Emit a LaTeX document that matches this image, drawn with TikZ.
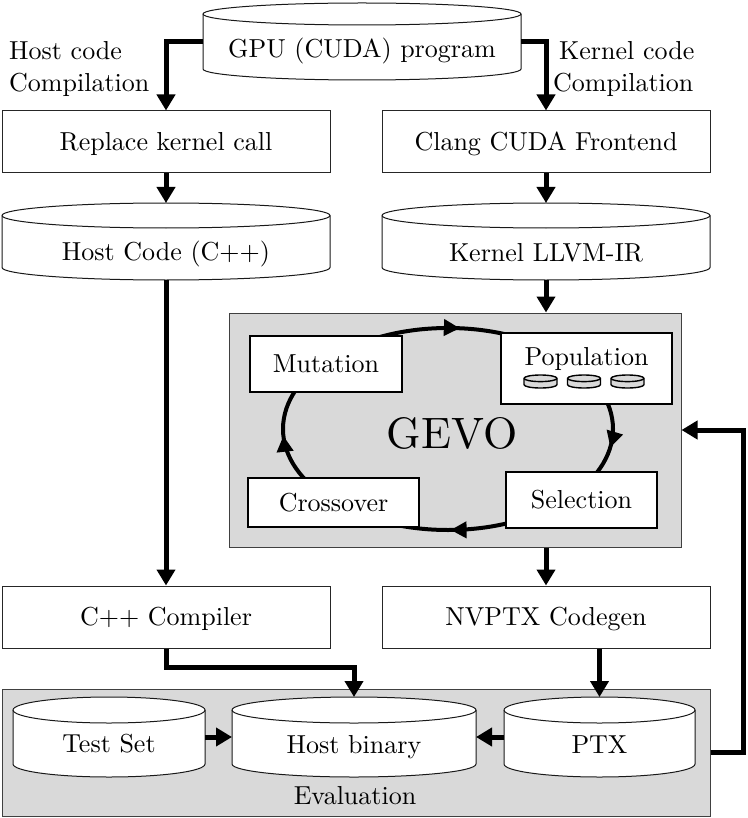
\documentclass[tikz,border=0pt]{standalone}
\usepackage{graphicx}
\usetikzlibrary{arrows.meta,decorations.markings,calc}
\newcommand\sx[1]{\scalebox{2.6}{#1}}
\newcommand\dbcyl[8]{% name,l,t,r,b,ry,texty,text
 \filldraw[cylline] (#2,-#3-#6) -- (#2,-#5+#6) arc[start angle=180,end angle=360,x radius={(#4-#2)/2},y radius=#6] -- (#4,-#3-#6) arc[start angle=0,end angle=180,x radius={(#4-#2)/2},y radius=#6] -- cycle;
 \draw[cylline,fill=none] (#2,-#3-#6) arc[start angle=180,end angle=360,x radius={(#4-#2)/2},y radius=#6];
 \node[hold, minimum width={(#4-#2)*1pt}, minimum height={(#5-#3)*1pt}] (#1) at ({(#2+#4)/2},{-(#3+#5)/2}) {};
 \node[txt] (#1-t) at ({(#2+#4)/2},-#7) {\sx{#8}};
}
\newcommand\minicyl[1]{%
 \filldraw[draw=black, line width=1.4pt, fill=gray!30] (#1-16.5,-378.3) -- (#1-16.5,-384.7) arc[start angle=180,end angle=360,x radius=16.5,y radius=3.3] -- (#1+16.5,-378.3) arc[start angle=0,end angle=180,x radius=16.5,y radius=3.3] -- cycle;
 \draw[line width=1.4pt] (#1-16.5,-378.3) arc[start angle=180,end angle=360,x radius=16.5,y radius=3.3];
}
\begin{document}
\begin{tikzpicture}[x=1pt,y=1pt,
  box/.style={draw=black!85, line width=1pt, fill=white, inner sep=0pt, text height=17pt, text depth=0pt},
  ibox/.style={draw=black, line width=1.6pt, fill=white, inner sep=0pt, text height=17pt, text depth=0pt},
  txt/.style={inner sep=0pt, text height=17pt, text depth=0pt},
  lbl/.style={anchor=base west, inner sep=0pt},
  arr/.style={line width=5pt, -{Triangle[length=16pt,width=18pt]}},
  cylline/.style={draw=black!90, line width=1pt, fill=white},
  hold/.style={inner sep=0pt, outer sep=0pt, draw=none},
  grp/.style={draw=black!75, line width=1pt, fill=gray!30, inner sep=0pt},
  cyc/.style={line width=4pt, postaction={decorate}, decoration={markings,
     mark=at position 0.022 with {\arrow{Triangle[length=16pt,width=16pt]}},
     mark=at position 0.247 with {\arrow{Triangle[length=16pt,width=16pt]}},
     mark=at position 0.492 with {\arrow{Triangle[length=16pt,width=16pt]}},
     mark=at position 0.764 with {\arrow{Triangle[length=16pt,width=16pt]}}}},
]
\useasboundingbox (0,0) rectangle (747,-818);

% top
\dbcyl{gpu}{203}{3}{521}{80}{11}{49}{GPU (CUDA) program}
\node[lbl] (hl1) at (9,-60) {\sx{Host code}};
\node[lbl] (hl2) at (9,-92) {\sx{Compilation}};
\node[lbl] (kl1) at (559,-60) {\sx{Kernel code}};
\node[lbl] (kl2) at (553,-92) {\sx{Compilation}};

\node[box, minimum width=328pt, minimum height=62pt] (replace) at (166,-142) {\sx{Replace kernel call}};
\node[box, minimum width=328pt, minimum height=62pt] (clang) at (546,-142) {\sx{Clang CUDA Frontend}};

\dbcyl{hostcode}{2}{203}{330}{280}{12.5}{252}{Host Code (C++)}
\dbcyl{llvm}{382}{203}{710}{280}{12.5}{252.5}{Kernel LLVM-IR}

% GEVO
\node[grp, minimum width=452pt, minimum height=234pt] (gevo) at (455,-430) {};
\draw[cyc] (613,-429) arc[start angle=0,end angle=-360,x radius=165,y radius=101];
\node[inner sep=0pt, text height=30pt, text depth=0pt] (gevolbl) at (452,-433) {\scalebox{4.4}{GEVO}};
\node[ibox, minimum width=152pt, minimum height=56pt] (mut) at (326,-364) {\sx{Mutation}};
\node[ibox, minimum width=171pt, minimum height=71pt] (pop) at (586.5,-368.5) {};
\node[txt] (poplbl) at (586.5,-357) {\sx{Population}};
\minicyl{540.5}
\minicyl{584}
\minicyl{627.5}
\node[ibox, minimum width=171pt, minimum height=49pt] (cross) at (333.5,-502.5) {\sx{Crossover}};
\node[ibox, minimum width=151pt, minimum height=56pt] (sel) at (581.5,-500) {\sx{Selection}};

\node[box, minimum width=328pt, minimum height=62pt] (cpp) at (166,-617) {\sx{C++ Compiler}};
\node[box, minimum width=328pt, minimum height=62pt] (nvptx) at (546,-617) {\sx{NVPTX Codegen}};

% Evaluation
\node[grp, minimum width=708pt, minimum height=127pt] (eval) at (356,-752.5) {};
\node[txt] (evallbl) at (355,-795.5) {\sx{Evaluation}};
\dbcyl{testset}{13}{697}{205}{777}{13}{744}{Test Set}
\dbcyl{hostbin}{232}{697}{476}{777}{13}{745}{Host binary}
\dbcyl{ptx}{504}{697}{695}{777}{13}{745}{PTX}

% connectors
\draw[arr] (gpu.west) -| (replace.north);
\draw[arr] (gpu.east) -| (clang.north);
\draw[arr] (replace.south) -- (hostcode.north);
\draw[arr] (clang.south) -- (llvm.north);
\draw[arr] (llvm.south) -- (llvm.south |- gevo.north);
\draw[arr] (hostcode.south) -- (cpp.north);
\draw[arr] (gevo.south -| nvptx.north) -- (nvptx.north);
\draw[arr] (cpp.south) -- ++(0,-19) -| (hostbin.north);
\draw[arr] (nvptx.south -| ptx.north) -- (ptx.north);
\draw[arr] (testset.east) -- (hostbin.west);
\draw[arr] (ptx.west) -- (hostbin.east);
\draw[arr] (eval.east) -- ++(33,0) |- (gevo.east);
\end{tikzpicture}
\end{document}
